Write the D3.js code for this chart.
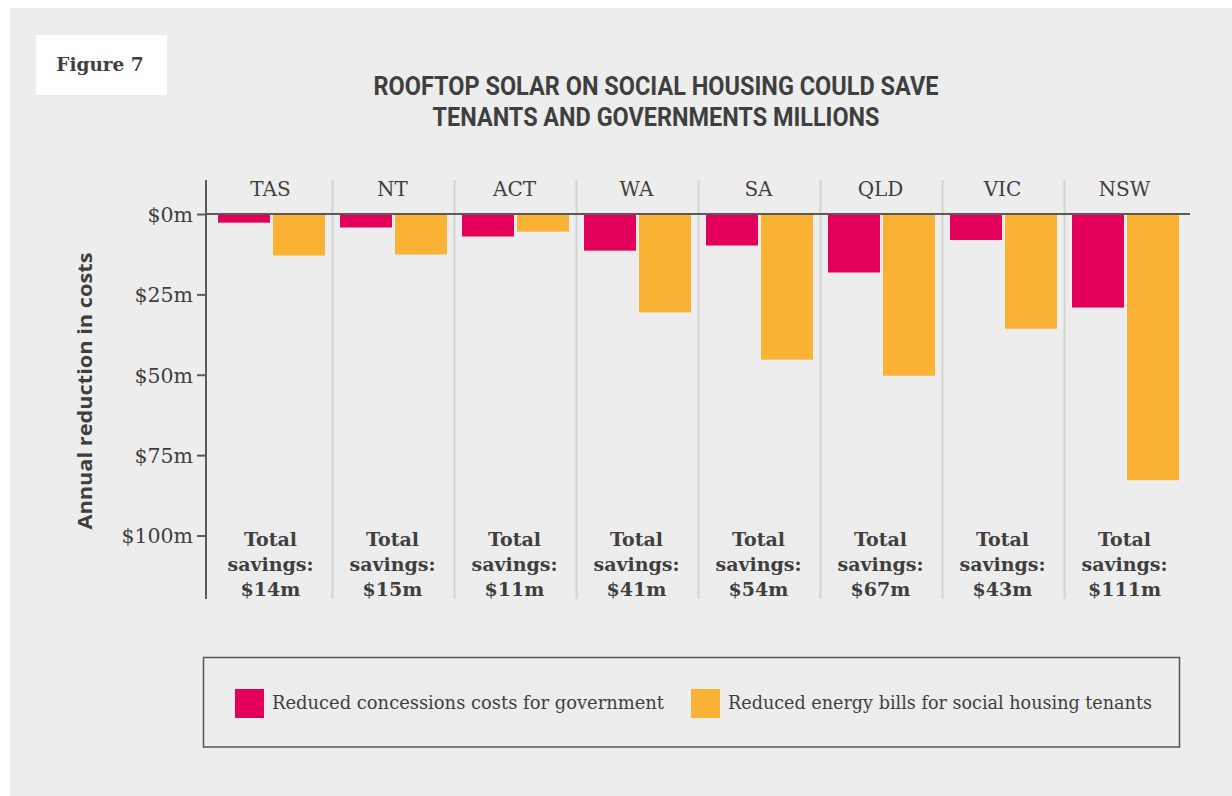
<!DOCTYPE html>
<html>
<head>
<meta charset="utf-8">
<script src="https://cdn.jsdelivr.net/npm/d3@7"></script>
<style>
  html, body { margin: 0; padding: 0; background: #ffffff; }
  svg { display: block; }
</style>
</head>
<body>
<svg id="chart" width="1232" height="796"></svg>
<script>
// ---- Data ----
const categories = ["TAS", "NT", "ACT", "WA", "SA", "QLD", "VIC", "NSW"];
const concessions = [2.7, 4.2, 7.0, 11.4, 9.8, 18.2, 8.1, 29.1];
const energyBills = [12.9, 12.6, 5.5, 30.6, 45.3, 50.3, 35.7, 82.8];
const totalSavings = ["$14m", "$15m", "$11m", "$41m", "$54m", "$67m", "$43m", "$111m"];
const yTicks = [0, 25, 50, 75, 100];
const seriesNames = ["Reduced concessions costs for government", "Reduced energy bills for social housing tenants"];
const seriesKeys = ["concessions", "energy"];
const seriesColors = ["#E3005A", "#F9B233"];
const titleLines = ["ROOFTOP SOLAR ON SOCIAL HOUSING COULD SAVE", "TENANTS AND GOVERNMENTS MILLIONS"];
const yTitle = "Annual reduction in costs";
const figureLabel = "Figure 7";

const rows = categories.map((c, i) => ({
  cat: c, concessions: concessions[i], energy: energyBills[i], total: totalSavings[i]
}));

const TEXT = "#3f3f3f";
const SERIF = "'DejaVu Serif', serif";

const svg = d3.select("#chart");

// background panel
svg.append("rect").attr("x", 10).attr("y", 8).attr("width", 1222).attr("height", 788).attr("fill", "#ededed");

// figure label
svg.append("rect").attr("x", 36).attr("y", 35).attr("width", 131).attr("height", 60).attr("fill", "#ffffff");
svg.append("text").attr("x", 100).attr("y", 71).attr("text-anchor", "middle")
  .attr("font-family", SERIF).attr("font-weight", 700).attr("font-size", 18.5).attr("fill", TEXT)
  .text(figureLabel);

// title
const titleLens = [565, 447];
titleLines.forEach((t, i) => {
  svg.append("text").attr("x", 656).attr("y", 95 + i * 31).attr("text-anchor", "middle")
    .attr("font-family", "Roboto, sans-serif").attr("font-weight", 700).attr("font-size", 26)
    .attr("fill", TEXT).attr("textLength", titleLens[i]).attr("lengthAdjust", "spacingAndGlyphs")
    .text(t);
});

// scales
const x = d3.scaleBand().domain(categories).range([210.5, 1186.5]).paddingInner(0).paddingOuter(0);
const bw = x.bandwidth();
const xs = d3.scaleBand().domain(seriesKeys)
  .range([bw / 2 - 53.5, bw / 2 + 53.5]).paddingInner(3 / 55).paddingOuter(0);
const y = d3.scaleLinear().domain([0, 100]).range([214, 535.5]);

const axisTop = 180, axisBottom = 599, axisX = 206;

// separators between categories
svg.append("g").selectAll("line").data(categories.slice(1)).join("line")
  .attr("x1", d => x(d)).attr("x2", d => x(d))
  .attr("y1", axisTop).attr("y2", axisBottom)
  .attr("stroke", "#d3d3d3").attr("stroke-width", 2);

// category labels
svg.append("g").selectAll("text").data(categories).join("text")
  .attr("x", d => x(d) + bw / 2 - 1).attr("y", 196).attr("text-anchor", "middle")
  .attr("font-family", SERIF).attr("font-size", 20).attr("fill", TEXT)
  .text(d => d);

// bars
const groups = svg.append("g").selectAll("g").data(rows).join("g")
  .attr("transform", d => `translate(${x(d.cat)},0)`);
groups.selectAll("rect").data(d => seriesKeys.map((k, j) => ({ key: k, value: d[k], color: seriesColors[j] })))
  .join("rect")
  .attr("x", d => xs(d.key)).attr("width", xs.bandwidth())
  .attr("y", y(0)).attr("height", d => y(d.value) - y(0))
  .attr("fill", d => d.color);

// zero line
svg.append("line").attr("x1", axisX).attr("x2", 1190).attr("y1", y(0)).attr("y2", y(0))
  .attr("stroke", "#5a5a5a").attr("stroke-width", 2);

// y axis
const yAxis = d3.axisLeft(y).tickValues(yTicks).tickSize(9).tickPadding(4)
  .tickFormat(d => "$" + d + "m");
const gy = svg.append("g").attr("transform", `translate(${axisX},0)`).call(yAxis);
gy.select(".domain").remove();
gy.selectAll(".tick line").attr("stroke", "#5a5a5a").attr("stroke-width", 2);
gy.selectAll(".tick text").attr("font-family", SERIF).attr("font-size", 20.5).attr("fill", TEXT)
  .attr("dy", "0.36em");
svg.append("line").attr("x1", axisX).attr("x2", axisX).attr("y1", axisTop).attr("y2", axisBottom)
  .attr("stroke", "#5a5a5a").attr("stroke-width", 2);

// y title
svg.append("text").attr("transform", `translate(92,391) rotate(-90)`).attr("text-anchor", "middle")
  .attr("font-family", "'Open Sans', sans-serif").attr("font-weight", 700).attr("font-size", 20)
  .attr("textLength", 277).attr("lengthAdjust", "spacingAndGlyphs")
  .attr("fill", TEXT).text(yTitle);

// total savings labels
const totals = svg.append("g").selectAll("text").data(rows).join("text")
  .attr("text-anchor", "middle").attr("font-family", SERIF).attr("font-weight", 700)
  .attr("font-size", 19).attr("fill", TEXT);
totals.each(function (d) {
  const t = d3.select(this);
  const cx = x(d.cat) + bw / 2 - 1;
  ["Total", "savings:", d.total].forEach((s, i) => {
    t.append("tspan").attr("x", cx).attr("y", 545.5 + i * 25.2).text(s);
  });
});

// legend
svg.append("rect").attr("x", 203.5).attr("y", 657.5).attr("width", 976).attr("height", 89.5)
  .attr("fill", "none").attr("stroke", "#555").attr("stroke-width", 1.5);
const legendX = [235, 691];
const legendLens = [392, 424];
seriesNames.forEach((name, j) => {
  svg.append("rect").attr("x", legendX[j]).attr("y", 689).attr("width", 29).attr("height", 29)
    .attr("fill", seriesColors[j]);
  svg.append("text").attr("x", legendX[j] + 37).attr("y", 709)
    .attr("font-family", SERIF)
    .attr("font-size", 18.5).attr("fill", TEXT)
    .attr("textLength", legendLens[j]).attr("lengthAdjust", "spacingAndGlyphs")
    .text(name);
});
</script>
</body>
</html>
